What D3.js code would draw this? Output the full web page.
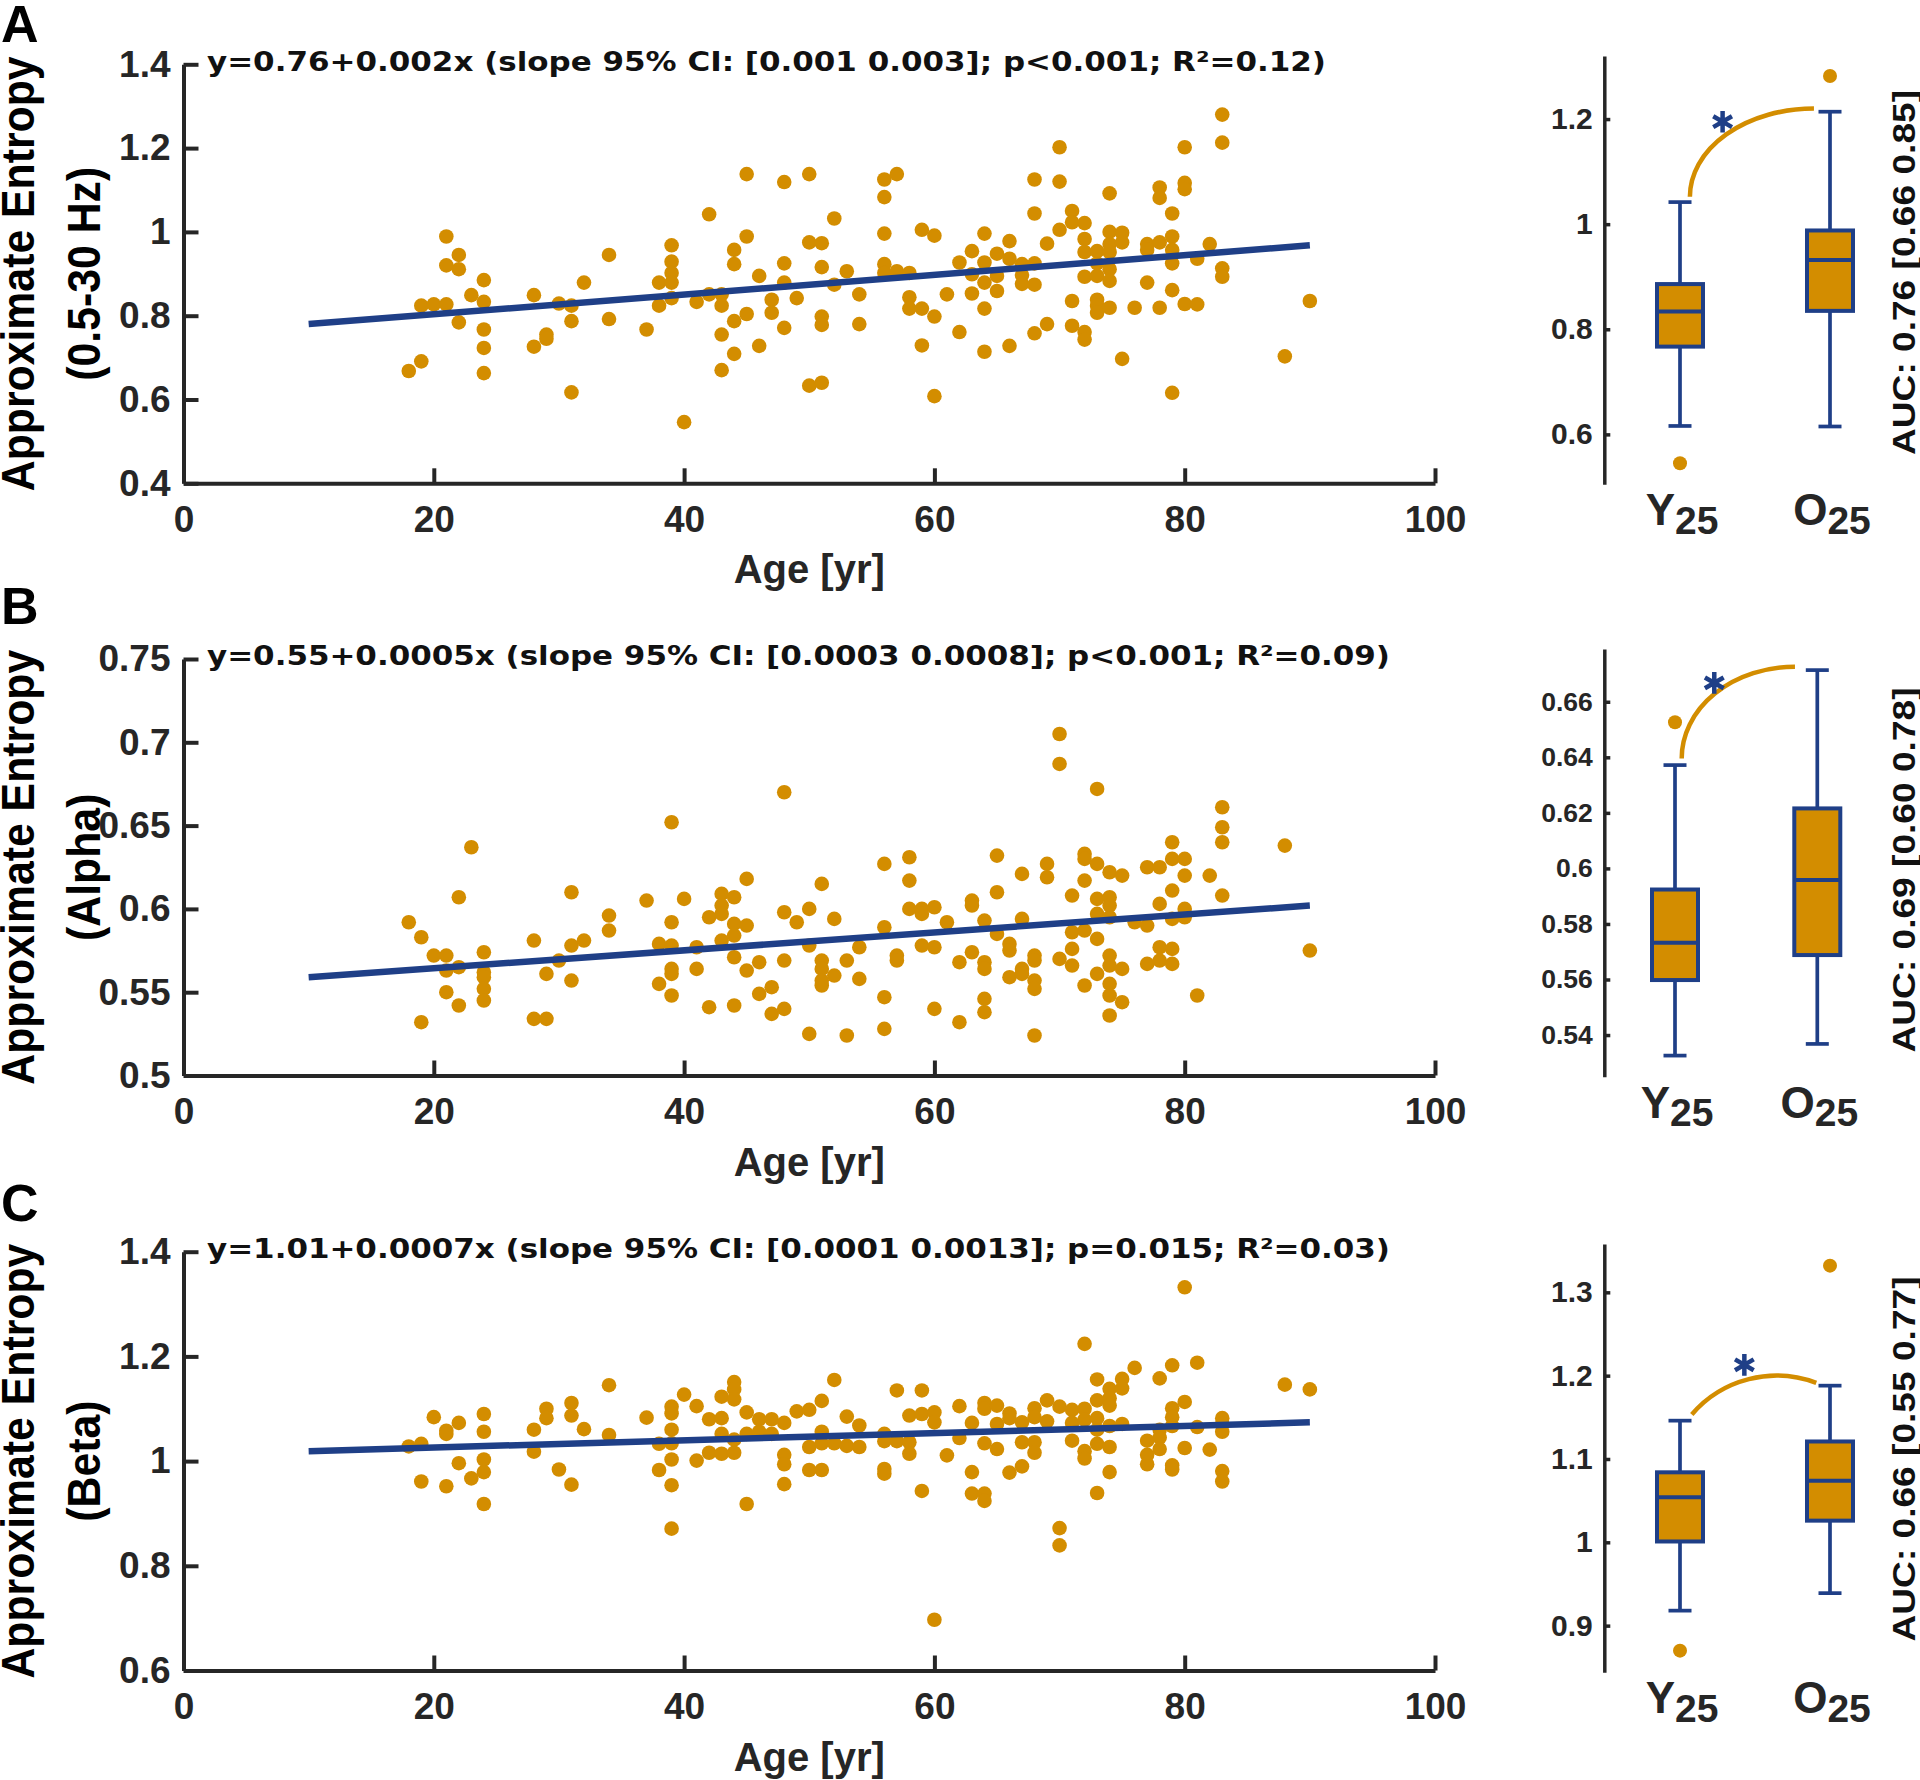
<!DOCTYPE html>
<html>
<head>
<meta charset="utf-8">
<script src="https://cdn.jsdelivr.net/npm/d3@7"></script>
<style>
  body { margin: 0; background: #fff; }
</style>
</head>
<body>
<div id="chart"></div>
<script>
// ---- data ----
const ageTicks = [0, 20, 40, 60, 80, 100];
const groupLabels = [['Y', '25'], ['O', '25']];

// panel A : broadband 0.5-30 Hz
const pointsA = [[18,0.668],[19,0.691],[19,0.824],[20,0.827],[21,0.989],[21,0.920],[21,0.827],[22,0.945],[22,0.911],[22,0.784],[23,0.849],[24,0.885],[24,0.833],[24,0.767],[24,0.723],[24,0.663],[28,0.849],[28,0.726],[29,0.755],[29,0.745],[30,0.829],[31,0.824],[31,0.787],[31,0.617],[32,0.879],[34,0.945],[34,0.792],[37,0.767],[38,0.879],[38,0.824],[39,0.968],[39,0.929],[39,0.902],[39,0.879],[39,0.842],[40,0.546],[41,0.833],[42,1.042],[42,0.851],[43,0.851],[43,0.824],[43,0.755],[43,0.670],[44,0.957],[44,0.923],[44,0.787],[44,0.709],[45,1.138],[45,0.989],[45,0.804],[46,0.895],[46,0.728],[47,0.838],[47,0.807],[48,1.119],[48,0.925],[48,0.879],[48,0.771],[49,0.842],[50,1.138],[50,0.975],[50,0.633],
  [51,0.973],[51,0.916],[51,0.798],[51,0.778],[51,0.640],[52,1.032],[52,0.874],[53,0.906],[54,0.851],[54,0.780],[56,1.125],[56,1.083],[56,0.996],[56,0.923],[56,0.902],[57,1.138],[57,0.906],[58,0.902],[58,0.844],[58,0.817],[59,1.005],[59,0.817],[59,0.729],[60,0.991],[60,0.798],[60,0.608],[61,0.851],[62,0.927],[62,0.761],[63,0.954],[63,0.899],[63,0.853],[64,0.996],[64,0.927],[64,0.879],[64,0.817],[64,0.714],[65,0.948],[65,0.895],[65,0.859],[66,0.978],[66,0.936],[66,0.728],[67,0.923],[67,0.897],[67,0.876],[68,1.125],[68,1.044],[68,0.925],[68,0.874],[68,0.758],[69,0.972],[69,0.780],[70,1.202],[70,1.120],[70,1.005],[71,1.050],[71,1.023],[71,0.835],[71,0.776],[72,1.021],[72,0.983],[72,0.952],[72,0.893],[72,0.761],[72,0.743],[73,0.954],[73,0.925],[73,0.895],[73,0.838],[73,0.824],[73,0.807],[74,1.092],[74,1.000],[74,0.971],[74,0.952],[74,0.911],[74,0.883],[74,0.819],[75,0.998],[75,0.975],[75,0.697],[76,0.819],[77,0.971],[77,0.957],[77,0.879],[78,1.106],[78,1.081],[78,0.975],[78,0.819],[79,1.044],[79,0.989],[79,0.957],[79,0.925],[79,0.861],[79,0.616],[80,1.202],[80,1.117],[80,1.102],[80,0.828],[81,0.936],[81,0.827],[82,0.971],[83,1.280],[83,1.213],[83,0.913],[83,0.893],[88,0.703],[90,0.835]];
const fitA = [[10, 0.780], [90, 0.968]];
const eqA = 'y=0.76+0.002x (slope 95% CI: [0.001 0.003]; p<0.001; R²=0.12)';
const yTicksA = [0.4, 0.6, 0.8, 1, 1.2, 1.4];
const boxTicksA = [0.6, 0.8, 1, 1.2];
// [lower whisker, Q1, median, Q3, upper whisker], outliers
const boxesA = [
  { q: [0.616, 0.767, 0.834, 0.886, 1.042], out: [0.545] },
  { q: [0.615, 0.835, 0.932, 0.988, 1.214], out: [1.282] }
];
const arcA = { cx: 0.893, cy: 1.052, rx: 0.827, ry: 0.168, a0: 180, a1: 90 };
const starA = [0.284, 1.195];
const aucA = 'AUC: 0.76 [0.66 0.85]';

// panel B : alpha
const pointsB = [[18,0.592],[19,0.583],[19,0.532],[20,0.572],[21,0.572],[21,0.563],[21,0.550],[22,0.607],[22,0.565],[22,0.542],[23,0.637],[24,0.574],[24,0.562],[24,0.559],[24,0.552],[24,0.545],[28,0.581],[28,0.534],[29,0.561],[29,0.534],[30,0.569],[31,0.610],[31,0.578],[31,0.557],[32,0.581],[34,0.596],[34,0.587],[37,0.605],[38,0.579],[38,0.555],[39,0.652],[39,0.592],[39,0.578],[39,0.564],[39,0.561],[39,0.548],[40,0.606],[41,0.577],[41,0.564],[42,0.595],[42,0.541],[43,0.609],[43,0.602],[43,0.597],[43,0.581],[44,0.607],[44,0.591],[44,0.584],[44,0.571],[44,0.542],[45,0.618],[45,0.590],[45,0.563],[46,0.568],[46,0.549],[47,0.553],[47,0.537],[48,0.670],[48,0.598],[48,0.569],[48,0.540],[49,0.592],[50,0.600],[50,0.578],[50,0.525],
  [51,0.615],[51,0.569],[51,0.564],[51,0.557],[51,0.554],[52,0.594],[52,0.560],[53,0.569],[53,0.524],[54,0.577],[54,0.558],[56,0.627],[56,0.589],[56,0.547],[56,0.528],[57,0.572],[57,0.569],[58,0.631],[58,0.617],[58,0.600],[59,0.600],[59,0.597],[59,0.578],[60,0.601],[60,0.577],[60,0.540],[61,0.592],[62,0.568],[62,0.532],[63,0.605],[63,0.602],[63,0.574],[64,0.593],[64,0.568],[64,0.564],[64,0.546],[64,0.538],[65,0.632],[65,0.610],[65,0.585],[66,0.579],[66,0.575],[66,0.559],[67,0.621],[67,0.594],[67,0.564],[67,0.561],[68,0.572],[68,0.569],[68,0.557],[68,0.552],[68,0.524],[69,0.627],[69,0.619],[70,0.705],[70,0.687],[70,0.570],[71,0.608],[71,0.586],[71,0.576],[71,0.566],[72,0.633],[72,0.630],[72,0.617],[72,0.587],[72,0.554],[73,0.672],[73,0.627],[73,0.606],[73,0.597],[73,0.582],[73,0.561],[74,0.622],[74,0.607],[74,0.602],[74,0.595],[74,0.572],[74,0.566],[74,0.555],[74,0.548],[74,0.536],[75,0.620],[75,0.564],[75,0.544],[76,0.592],[77,0.625],[77,0.590],[77,0.567],[78,0.625],[78,0.603],[78,0.577],[78,0.569],[79,0.640],[79,0.630],[79,0.611],[79,0.594],[79,0.576],[79,0.567],[80,0.630],[80,0.620],[80,0.600],[80,0.595],[81,0.548],[82,0.620],[83,0.661],[83,0.649],[83,0.640],[83,0.608],[88,0.638],[90,0.575]];
const fitB = [[10, 0.559], [90, 0.602]];
const eqB = 'y=0.55+0.0005x (slope 95% CI: [0.0003 0.0008]; p<0.001; R²=0.09)';
const yTicksB = [0.5, 0.55, 0.6, 0.65, 0.7, 0.75];
const boxTicksB = [0.54, 0.56, 0.58, 0.6, 0.62, 0.64, 0.66];
const boxesB = [
  { q: [0.5326, 0.5598, 0.5732, 0.5924, 0.6372], out: [0.6526] },
  { q: [0.5368, 0.5688, 0.5958, 0.6216, 0.6714], out: [] }
];
const arcB = { cx: 0.843, cy: 0.6396, rx: 0.796, ry: 0.033, a0: 180, a1: 90 };
const starB = [0.276, 0.6668];
const aucB = 'AUC: 0.69 [0.60 0.78]';

// panel C : beta
const pointsC = [[18,1.028],[19,1.033],[19,0.961],[20,1.084],[21,1.058],[21,1.052],[21,0.952],[22,1.073],[22,0.996],[23,0.967],[24,1.090],[24,1.056],[24,1.003],[24,0.979],[24,0.918],[28,1.060],[28,1.018],[29,1.100],[29,1.082],[30,0.984],[31,1.111],[31,1.087],[31,0.955],[32,1.061],[34,1.145],[34,1.050],[37,1.083],[38,1.033],[38,0.983],[39,1.104],[39,1.091],[39,1.060],[39,1.034],[39,1.003],[39,0.954],[39,0.871],[40,1.127],[41,1.105],[41,1.001],[42,1.080],[42,1.016],[43,1.123],[43,1.082],[43,1.052],[43,1.014],[44,1.151],[44,1.137],[44,1.118],[44,1.041],[44,1.016],[45,1.093],[45,1.052],[45,0.918],[46,1.080],[46,1.056],[47,1.080],[47,1.052],[48,1.073],[48,1.012],[48,0.994],[48,0.956],[49,1.095],[50,1.098],[50,1.027],[50,0.983],
  [51,1.115],[51,1.056],[51,1.034],[51,0.983],[52,1.155],[52,1.034],[53,1.085],[53,1.029],[54,1.068],[54,1.027],[56,1.052],[56,1.038],[56,0.985],[56,0.976],[57,1.135],[57,1.038],[58,1.087],[58,1.036],[58,1.014],[59,1.135],[59,1.090],[59,0.943],[60,1.093],[60,1.074],[60,0.697],[61,1.011],[62,1.105],[62,1.044],[63,1.073],[63,0.979],[63,0.938],[64,1.111],[64,1.100],[64,1.034],[64,0.938],[64,0.924],[65,1.106],[65,1.071],[65,1.023],[66,1.091],[66,1.082],[66,0.978],[67,1.074],[67,1.036],[67,0.990],[68,1.101],[68,1.084],[68,1.036],[68,1.016],[69,1.116],[69,1.076],[70,1.104],[70,0.872],[70,0.839],[71,1.098],[71,1.073],[71,1.039],[72,1.224],[72,1.100],[72,1.079],[72,1.019],[72,1.005],[73,1.156],[73,1.116],[73,1.082],[73,1.060],[73,1.033],[73,0.939],[74,1.138],[74,1.120],[74,1.106],[74,1.067],[74,1.027],[74,0.979],[75,1.157],[75,1.139],[75,1.071],[76,1.178],[77,1.039],[77,1.012],[77,0.994],[78,1.158],[78,1.060],[78,1.045],[78,1.023],[79,1.183],[79,1.101],[79,1.084],[79,1.067],[79,0.992],[79,0.984],[80,1.332],[80,1.113],[80,1.025],[81,1.188],[81,1.065],[82,1.022],[83,1.082],[83,1.071],[83,1.056],[83,0.981],[83,0.961],[88,1.146],[90,1.137]];
const fitC = [[10, 1.019], [90, 1.074]];
const eqC = 'y=1.01+0.0007x (slope 95% CI: [0.0001 0.0013]; p=0.015; R²=0.03)';
const yTicksC = [0.6, 0.8, 1, 1.2, 1.4];
const boxTicksC = [0.9, 1, 1.1, 1.2, 1.3];
const boxesC = [
  { q: [0.918, 1.001, 1.054, 1.084, 1.146], out: [0.870] },
  { q: [0.939, 1.026, 1.074, 1.121, 1.188], out: [1.332] }
];
const arcC = { cx: 0.644, cy: 1.0696, rx: 0.738, ry: 0.1304, a0: 140, a1: 69 };
const starC = [0.429, 1.213];
const aucC = 'AUC: 0.66 [0.55 0.77]';

// ---- layout ----
const orange = '#d38d00';
const blue = '#1f3f87';
const ink = '#262626';
const sans = '"Liberation Sans", Arial, sans-serif';
const wide = '"DejaVu Sans", Verdana, sans-serif';

const panels = [
  { letter: 'A', letterY: 42, band: '(0.5-30 Hz)', points: pointsA, fit: fitA, eq: eqA, eqLen: 1119,
    yTicks: yTicksA, yDomain: [0.4, 1.4], yRange: [483.3, 64.3],
    boxes: boxesA, boxTicks: boxTicksA, boxDomain: [0.505, 1.32], boxRange: [484.3, 56], boxX: [1680, 1830], boxFont: 30,
    arc: arcA, star: starA, auc: aucA, aucY: 272.5 },
  { letter: 'B', letterY: 624, band: '(Alpha)', points: pointsB, fit: fitB, eq: eqB, eqLen: 1183,
    yTicks: yTicksB, yDomain: [0.5, 0.75], yRange: [1075.5, 659],
    boxes: boxesB, boxTicks: boxTicksB, boxDomain: [0.525, 0.679], boxRange: [1076.7, 649], boxX: [1675, 1817.3], boxFont: 26.5,
    arc: arcB, star: starB, auc: aucB, aucY: 870 },
  { letter: 'C', letterY: 1221, band: '(Beta)', points: pointsC, fit: fitC, eq: eqC, eqLen: 1183,
    yTicks: yTicksC, yDomain: [0.6, 1.4], yRange: [1670.5, 1251.7],
    boxes: boxesC, boxTicks: boxTicksC, boxDomain: [0.844, 1.358], boxRange: [1672.3, 1244], boxX: [1680, 1830], boxFont: 30,
    arc: arcC, star: starC, auc: aucC, aucY: 1459 }
];

const svg = d3.select('#chart').append('svg')
  .attr('width', 1920)
  .attr('height', 1780)
  .style('display', 'block');

const x = d3.scaleLinear().domain([0, 100]).range([183.5, 1435]);

panels.forEach(p => {
  const y = d3.scaleLinear().domain(p.yDomain).range(p.yRange);
  const g = svg.append('g').attr('class', 'panel-' + p.letter);

  /**
   * panel letter
   */
  g.append('text')
    .attr('x', 1)
    .attr('y', p.letterY)
    .style('font-family', sans)
    .style('font-weight', 'bold')
    .style('font-size', '52px')
    .attr('fill', '#000')
    .text(p.letter);

  /**
   * scatter axes
   */
  const xAxis = g.append('g')
    .attr('transform', `translate(0, ${p.yRange[0]})`)
    .call(d3.axisBottom(x).tickValues(ageTicks).tickSizeInner(-15).tickSizeOuter(0).tickFormat(d => String(d)));
  xAxis.selectAll('text').attr('y', 48.5).attr('dy', null);

  const yAxis = g.append('g')
    .attr('transform', `translate(${x(0)}, 0)`)
    .call(d3.axisLeft(y).tickValues(p.yTicks).tickSizeInner(-15).tickSizeOuter(0).tickPadding(13).tickFormat(d => String(d)));

  [xAxis, yAxis].forEach(a => {
    a.attr('font-family', null).attr('font-size', null);
    a.select('.domain').attr('stroke', ink).attr('stroke-width', 4);
    a.selectAll('.tick line').attr('stroke', ink).attr('stroke-width', 4);
    a.selectAll('.tick text')
      .attr('fill', ink)
      .style('font-family', sans)
      .style('font-weight', 'bold')
      .style('font-size', '37px');
  });

  // axis titles
  g.append('text')
    .attr('x', (x(0) + x(100)) / 2)
    .attr('y', p.yRange[0] + 100)
    .attr('text-anchor', 'middle')
    .style('font-family', sans)
    .style('font-weight', 'bold')
    .style('font-size', '40px')
    .attr('fill', ink)
    .text('Age [yr]');

  const yMid = (p.yRange[0] + p.yRange[1]) / 2;
  [['Approximate Entropy', 34], [p.band, 100]].forEach(([t, bx]) => {
    g.append('text')
      .attr('transform', `translate(${bx}, ${yMid}) rotate(-90) scale(0.93, 1)`)
      .attr('text-anchor', 'middle')
      .style('font-family', sans)
      .style('font-weight', 'bold')
      .style('font-size', '46px')
      .attr('fill', '#000')
      .text(t);
  });

  /**
   * regression text, points and fit
   */
  g.append('text')
    .attr('x', 207)
    .attr('y', p.yRange[1] + 6.4)
    .attr('textLength', p.eqLen)
    .attr('lengthAdjust', 'spacingAndGlyphs')
    .style('font-family', wide)
    .style('font-weight', 'bold')
    .style('font-size', '27px')
    .attr('fill', '#111')
    .text(p.eq);

  g.append('g').selectAll('circle')
    .data(p.points)
    .enter()
    .append('circle')
    .attr('cx', d => x(d[0]))
    .attr('cy', d => y(d[1]))
    .attr('r', 7.3)
    .attr('fill', orange);

  g.append('path')
    .datum(p.fit)
    .attr('d', d3.line().x(d => x(d[0])).y(d => y(d[1])))
    .attr('stroke', blue)
    .attr('stroke-width', 6.5)
    .attr('fill', 'none');

  /**
   * box plots Y25 vs O25
   */
  const by = d3.scaleLinear().domain(p.boxDomain).range(p.boxRange);
  const bx = d3.scaleLinear().domain([0, 1]).range(p.boxX);
  const boxW = 46, capW = 23;

  const bAxis = g.append('g')
    .attr('transform', 'translate(1604.3, 0)')
    .call(d3.axisLeft(by).tickValues(p.boxTicks).tickSizeInner(-6).tickSizeOuter(0).tickPadding(11.5).tickFormat(d => String(d)));
  bAxis.attr('font-family', null).attr('font-size', null);
  bAxis.select('.domain').attr('stroke', ink).attr('stroke-width', 3.5);
  bAxis.selectAll('.tick line').attr('stroke', ink).attr('stroke-width', 3.5);
  bAxis.selectAll('.tick text')
    .attr('fill', ink)
    .style('font-family', sans)
    .style('font-weight', 'bold')
    .style('font-size', p.boxFont + 'px');

  const boxG = g.append('g').selectAll('g')
    .data(p.boxes)
    .enter()
    .append('g');

  boxG.each(function (d, i) {
    const bg = d3.select(this);
    const cx = bx(i);
    // whiskers
    bg.append('line').attr('x1', cx).attr('x2', cx).attr('y1', by(d.q[0])).attr('y2', by(d.q[1]));
    bg.append('line').attr('x1', cx).attr('x2', cx).attr('y1', by(d.q[3])).attr('y2', by(d.q[4]));
    bg.append('line').attr('x1', cx - capW / 2).attr('x2', cx + capW / 2).attr('y1', by(d.q[0])).attr('y2', by(d.q[0]));
    bg.append('line').attr('x1', cx - capW / 2).attr('x2', cx + capW / 2).attr('y1', by(d.q[4])).attr('y2', by(d.q[4]));
    bg.selectAll('line').attr('stroke', blue).attr('stroke-width', 3.7);
    // box
    bg.append('rect')
      .attr('x', cx - boxW / 2)
      .attr('width', boxW)
      .attr('y', by(d.q[3]))
      .attr('height', by(d.q[1]) - by(d.q[3]))
      .attr('fill', orange)
      .attr('stroke', blue)
      .attr('stroke-width', 4);
    bg.append('line')
      .attr('x1', cx - boxW / 2).attr('x2', cx + boxW / 2)
      .attr('y1', by(d.q[2])).attr('y2', by(d.q[2]))
      .attr('stroke', blue).attr('stroke-width', 4);
    bg.selectAll('circle')
      .data(d.out)
      .enter()
      .append('circle')
      .attr('cx', cx)
      .attr('cy', v => by(v))
      .attr('r', 7)
      .attr('fill', orange);
  });

  // group labels with subscript
  groupLabels.forEach((lab, i) => {
    const t = g.append('text')
      .attr('x', bx(i) + 2)
      .attr('y', p.boxRange[0] + 41)
      .attr('text-anchor', 'middle')
      .style('font-family', sans)
      .style('font-weight', 'bold')
      .attr('fill', ink);
    t.append('tspan').style('font-size', '44px').text(lab[0]);
    t.append('tspan').style('font-size', '39px').attr('dy', 8.3).text(lab[1]);
  });

  // significance arc
  const a = p.arc;
  const rxPx = a.rx * (bx(1) - bx(0));
  const ryPx = Math.abs(by(a.cy + a.ry) - by(a.cy));
  const pt = ang => {
    const r = ang * Math.PI / 180;
    return [bx(a.cx + a.rx * Math.cos(r)), by(a.cy + a.ry * Math.sin(r))];
  };
  const s = pt(a.a0), e = pt(a.a1);
  g.append('path')
    .attr('d', `M${s[0]},${s[1]} A${rxPx},${ryPx} 0 0 1 ${e[0]},${e[1]}`)
    .attr('fill', 'none')
    .attr('stroke', orange)
    .attr('stroke-width', 4.5);

  g.append('path')
    .attr('transform', `translate(${bx(p.star[0])}, ${by(p.star[1])})`)
    .attr('d', d3.symbol(d3.symbolAsterisk).size(330)())
    .attr('fill', 'none')
    .attr('stroke', blue)
    .attr('stroke-width', 4.5);

  // AUC annotation
  g.append('text')
    .attr('transform', `translate(1915, ${p.aucY}) rotate(-90) scale(1.16, 1)`)
    .attr('text-anchor', 'middle')
    .style('font-family', sans)
    .style('font-weight', 'bold')
    .style('font-size', '32px')
    .attr('fill', '#111')
    .text(p.auc);
});
</script>
</body>
</html>
